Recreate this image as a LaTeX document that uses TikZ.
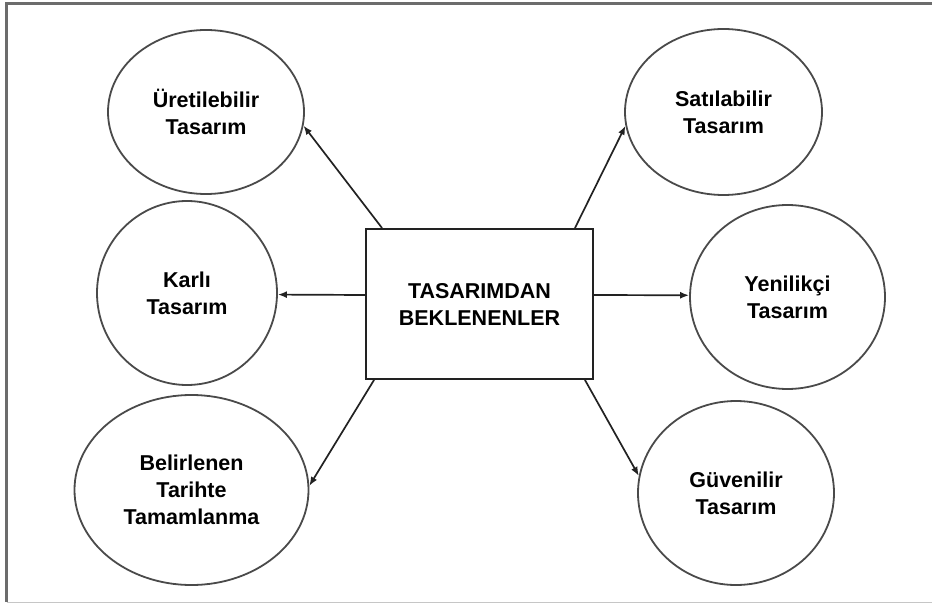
\documentclass[tikz,border=0pt]{standalone}
\usepackage{fontspec}
\setmainfont{Liberation Sans}
\usetikzlibrary{shapes.geometric,arrows.meta}
\definecolor{ink}{HTML}{222222}
\definecolor{rim}{HTML}{4A4A4A}
\begin{document}
\begin{tikzpicture}[x=1pt,y=-1pt,
  every node/.style={font=\bfseries\fontsize{21.5}{27}\selectfont, align=center, text=black},
  goal/.style={ellipse, draw=rim, line width=1.8pt, inner sep=0pt},
  core/.style={rectangle, draw=ink, line width=1.9pt, inner sep=0pt,
               minimum width=227pt, minimum height=150pt},
  arr/.style={draw=ink, line width=1.7pt, -{Latex[length=9pt,width=7pt]}}]
  \useasboundingbox (0,0) rectangle (932,604);
  % outer frame (open on the right)
  \draw[gray!85!black, line width=2.2pt] (932,3.5) -- (6.5,3.5) -- (6.5,602);
  \draw[gray!45, line width=1.5pt] (6.5,602.5) -- (932,602.5);

  % central box
  \node[core] (c) at (479.5,304) {TASARIMDAN\\BEKLENENLER};

  % expectations around it
  \node[goal, minimum width=196pt, minimum height=164pt] (u) at (206,112) {Üretilebilir\\Tasarım};
  \node[goal, minimum width=180pt, minimum height=184pt] (k) at (187,293) {Karlı\\Tasarım};
  \node[goal, minimum width=234pt, minimum height=190pt] (b) at (191.5,490) {Belirlenen\\Tarihte\\Tamamlanma};
  \node[goal, minimum width=197pt, minimum height=166pt] (s) at (723.5,112) {Satılabilir\\Tasarım};
  \node[goal, minimum width=195pt, minimum height=184pt] (y) at (787.5,297) {Yenilikçi\\Tasarım};
  \node[goal, minimum width=196pt, minimum height=184pt] (g) at (736,493) {Güvenilir\\Tasarım};

  % connectors
  \draw[arr] ([xshift=17pt]c.north west) -- (u.-8);
  \draw[arr] ([yshift=9pt]c.west) -- (k.-1);
  \draw[arr] ([xshift=9pt]c.south west) -- (b.2);
  \draw[arr] ([xshift=-19pt]c.north east) -- (s.188);
  \draw[arr] ([yshift=9pt]c.east) -- (y.179);
  \draw[arr] ([xshift=-9pt]c.south east) -- (g.170);
\end{tikzpicture}
\end{document}
